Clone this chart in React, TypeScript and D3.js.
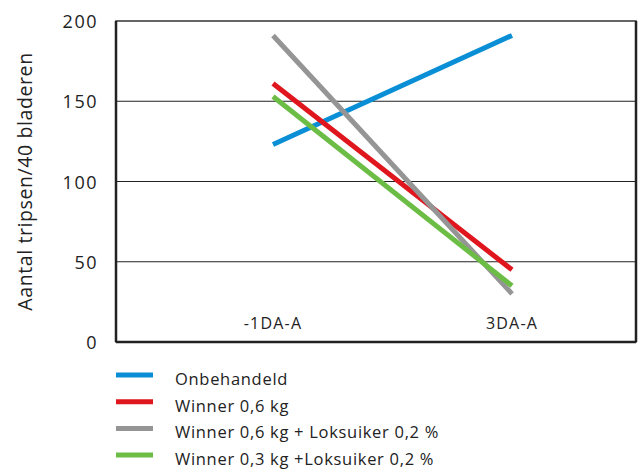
import * as d3 from "d3";
import { useRef, useEffect } from "react";

const categories = ["-1DA-A", "3DA-A"];
const seriesNames = [
  "Onbehandeld",
  "Winner 0,6 kg",
  "Winner 0,6 kg + Loksuiker 0,2 %",
  "Winner 0,3 kg +Loksuiker 0,2 %",
];
const onbehandeld = [123, 191];
const winner06 = [161, 45];
const winner06Lok = [191, 30];
const winner03Lok = [153, 35];
const yTicks = [0, 50, 100, 150, 200];
const colors = ["#0a8fd6", "#e0161e", "#959595", "#6cbd45"];

const W = 641;
const H = 471;
const FONT = "'Open Sans', 'DejaVu Sans', sans-serif";

const App = () => {
  const svgRef = useRef<SVGSVGElement>(null);

  useEffect(() => {
    const svg = d3.select(svgRef.current);
    svg.selectAll("*").remove();

    const left = 116, right = 636, top = 21, bottom = 342;

    const x = d3.scalePoint<string>().domain(categories).range([273, 512]);
    const y = d3.scaleLinear().domain([0, 200]).range([bottom, top]);

    // grid lines
    svg.append("g")
      .selectAll("line")
      .data(yTicks.filter(t => t !== 0 && t !== 200))
      .enter()
      .append("line")
      .attr("x1", left)
      .attr("x2", right)
      .attr("y1", d => y(d))
      .attr("y2", d => y(d))
      .attr("stroke", "#222")
      .attr("stroke-width", 1.2);

    // frame
    svg.append("rect")
      .attr("x", left)
      .attr("y", top)
      .attr("width", right - left)
      .attr("height", bottom - top)
      .attr("fill", "none")
      .attr("stroke", "#333")
      .attr("stroke-width", 1.5);
    [[left, top, left, bottom], [left, bottom, right, bottom], [right, top, right, bottom]]
      .forEach(([x1, y1, x2, y2]) => {
        svg.append("line")
          .attr("x1", x1).attr("x2", x2)
          .attr("y1", y1).attr("y2", y2)
          .attr("stroke", "#222").attr("stroke-width", 2.5);
      });

    // y tick labels
    svg.append("g")
      .selectAll("text")
      .data(yTicks)
      .enter()
      .append("text")
      .attr("x", 98)
      .attr("y", d => y(d) + 7)
      .attr("text-anchor", "end")
      .attr("font-family", FONT)
      .attr("font-size", 18)
      .attr("letter-spacing", 1.5)
      .attr("fill", "#222")
      .text(d => d);

    // category labels
    svg.append("g")
      .selectAll("text")
      .data(categories)
      .enter()
      .append("text")
      .attr("x", d => x(d)!)
      .attr("y", 329)
      .attr("text-anchor", "middle")
      .attr("font-family", FONT)
      .attr("font-size", 16)
      .attr("letter-spacing", 1.2)
      .attr("fill", "#222")
      .text(d => d);

    // y axis title
    svg.append("text")
      .attr("transform", `translate(32, ${(top + bottom) / 2}) rotate(-90)`)
      .attr("text-anchor", "middle")
      .attr("font-family", FONT)
      .attr("font-size", 19.5)
      .attr("letter-spacing", 0.6)
      .attr("fill", "#222")
      .text("Aantal tripsen/40 bladeren");

    const allSeries = [onbehandeld, winner06, winner06Lok, winner03Lok];
    const line = d3.line<number>()
      .x((d, i) => x(categories[i])!)
      .y(d => y(d));

    allSeries.forEach((s, i) => {
      svg.append("path")
        .datum(s)
        .attr("fill", "none")
        .attr("stroke", colors[i])
        .attr("stroke-width", 5)
        .attr("d", line);
    });

    // legend
    const legend = svg.append("g");
    seriesNames.forEach((name, i) => {
      const ly = 375 + i * 26.7;
      legend.append("line")
        .attr("x1", 116).attr("x2", 153)
        .attr("y1", ly).attr("y2", ly)
        .attr("stroke", colors[i])
        .attr("stroke-width", 5);
      legend.append("text")
        .attr("x", 175)
        .attr("y", ly + 10)
        .attr("font-family", FONT)
        .attr("font-size", 16.5)
        .attr("letter-spacing", 0.7)
        .attr("fill", "#222")
        .text(name);
    });
  }, []);

  return (
    <svg
      ref={svgRef}
      width={W}
      height={H}
      style={{ position: "absolute", left: 0, top: 0, background: "#fff" }}
    />
  );
};

export default App;
